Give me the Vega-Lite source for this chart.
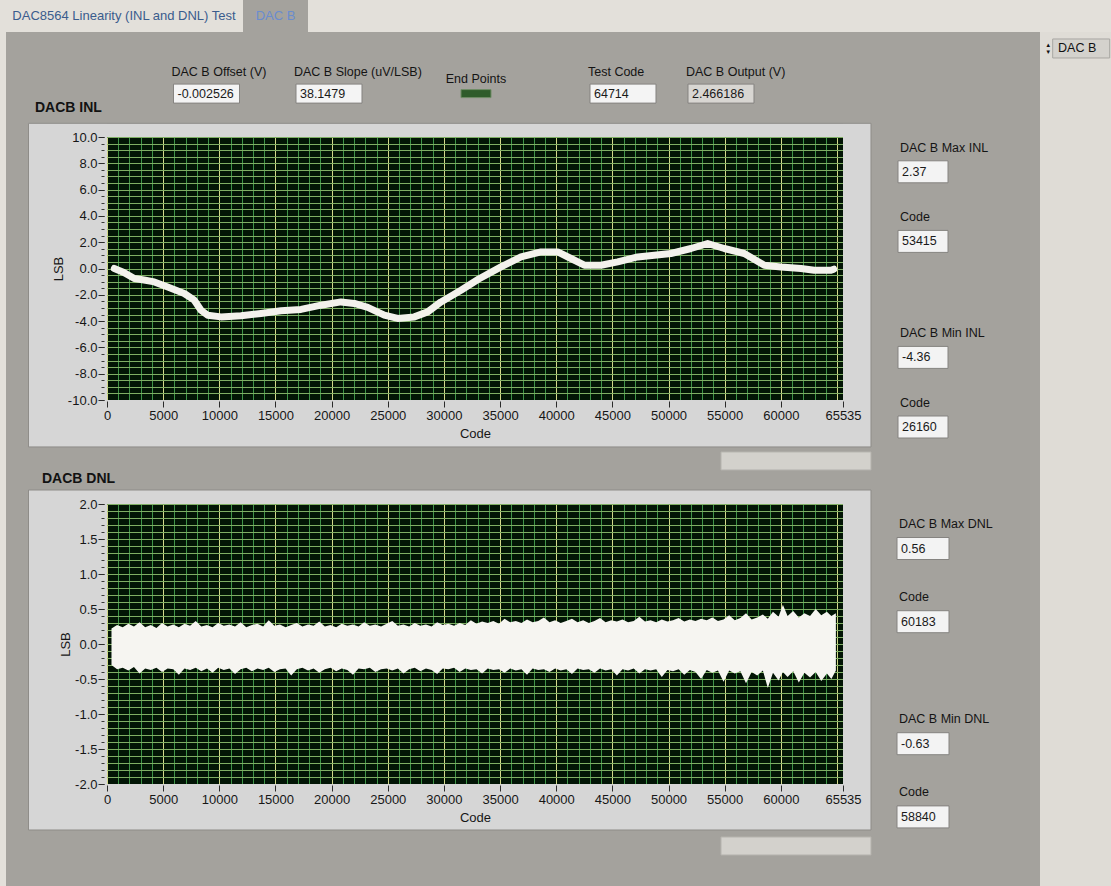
{
  "$schema": "https://vega.github.io/schema/vega-lite/v6.json",
  "background": "#a4a29d",
  "padding": 0,
  "config": {
    "font": "Liberation Sans",
    "view": {"stroke": null},
    "axis": {"labelFont": "Liberation Sans", "titleFont": "Liberation Sans", "labelFontSize": 13, "titleFontSize": 13, "titleFontWeight": "normal", "labelColor": "#161616", "titleColor": "#161616", "tickColor": "#2b2b2b", "domain": false, "grid": false, "labelFlush": false, "labelOverlap": false, "labelBound": false},
    "title": {"font": "Liberation Sans"},
    "text": {"font": "Liberation Sans"}
  },
  "datasets": {
    "tabs": [{"tab": "DAC8564 Linearity (INL and DNL) Test", "sel": false}, {"tab": "DAC B", "sel": true}],
    "header": [
      {"item": "offset", "label": "DAC B Offset (V)", "value": "-0.002526"},
      {"item": "slope", "label": "DAC B Slope (uV/LSB)", "value": "38.1479"},
      {"item": "test", "label": "Test Code", "value": "64714"},
      {"item": "output", "label": "DAC B Output (V)", "value": "2.466186"}
    ],
    "inlside": [
      {"item": "maxv", "label": "DAC B Max INL", "value": "2.37"},
      {"item": "maxc", "label": "Code", "value": "53415"},
      {"item": "minv", "label": "DAC B Min INL", "value": "-4.36"},
      {"item": "minc", "label": "Code", "value": "26160"}
    ],
    "dnlside": [
      {"item": "maxv", "label": "DAC  B Max DNL", "value": "0.56"},
      {"item": "maxc", "label": "Code", "value": "60183"},
      {"item": "minv", "label": "DAC B Min DNL", "value": "-0.63"},
      {"item": "minc", "label": "Code", "value": "58840"}
    ],
    "inl": [{"code":650,"inl":0.0},{"code":1500,"inl":-0.3},{"code":2431,"inl":-0.76},{"code":3300,"inl":-0.88},{"code":4212,"inl":-1.02},{"code":5405,"inl":-1.4},{"code":6883,"inl":-1.9},{"code":7773,"inl":-2.41},{"code":8370,"inl":-3.17},{"code":8966,"inl":-3.55},{"code":10151,"inl":-3.68},{"code":11931,"inl":-3.6},{"code":13712,"inl":-3.42},{"code":15493,"inl":-3.22},{"code":17274,"inl":-3.11},{"code":19055,"inl":-2.79},{"code":20835,"inl":-2.54},{"code":22020,"inl":-2.66},{"code":23213,"inl":-2.96},{"code":24691,"inl":-3.55},{"code":25884,"inl":-3.8},{"code":27362,"inl":-3.68},{"code":28555,"inl":-3.3},{"code":29739,"inl":-2.54},{"code":31520,"inl":-1.65},{"code":33100,"inl":-0.8},{"code":35082,"inl":0.12},{"code":36863,"inl":0.88},{"code":38643,"inl":1.26},{"code":40130,"inl":1.26},{"code":41315,"inl":0.76},{"code":42499,"inl":0.25},{"code":43986,"inl":0.25},{"code":45473,"inl":0.5},{"code":47253,"inl":0.88},{"code":48732,"inl":1.01},{"code":50219,"inl":1.14},{"code":52000,"inl":1.52},{"code":53486,"inl":1.9},{"code":54964,"inl":1.52},{"code":56745,"inl":1.14},{"code":58526,"inl":0.25},{"code":60013,"inl":0.12},{"code":61794,"inl":0.0},{"code":62978,"inl":-0.13},{"code":64465,"inl":-0.13},{"code":64714,"inl":-0.05}],
    "dnl": [
      {"code":400,"hi":0.22,"lo":-0.30},{"code":900,"hi":0.27,"lo":-0.36},{"code":1400,"hi":0.24,"lo":-0.34},{"code":1900,"hi":0.29,"lo":-0.38},{"code":2400,"hi":0.25,"lo":-0.33},{"code":2900,"hi":0.31,"lo":-0.42},{"code":3400,"hi":0.24,"lo":-0.35},{"code":3900,"hi":0.27,"lo":-0.37},{"code":4400,"hi":0.23,"lo":-0.34},{"code":4900,"hi":0.30,"lo":-0.40},
      {"code":5400,"hi":0.25,"lo":-0.35},{"code":5900,"hi":0.28,"lo":-0.36},{"code":6400,"hi":0.24,"lo":-0.44},{"code":6900,"hi":0.29,"lo":-0.35},{"code":7400,"hi":0.26,"lo":-0.37},{"code":7900,"hi":0.33,"lo":-0.34},{"code":8400,"hi":0.25,"lo":-0.39},{"code":8900,"hi":0.27,"lo":-0.35},{"code":9400,"hi":0.24,"lo":-0.41},{"code":9900,"hi":0.30,"lo":-0.34},
      {"code":10400,"hi":0.26,"lo":-0.37},{"code":10900,"hi":0.28,"lo":-0.35},{"code":11400,"hi":0.25,"lo":-0.43},{"code":11900,"hi":0.31,"lo":-0.36},{"code":12400,"hi":0.24,"lo":-0.34},{"code":12900,"hi":0.27,"lo":-0.39},{"code":13400,"hi":0.29,"lo":-0.35},{"code":13900,"hi":0.25,"lo":-0.37},{"code":14400,"hi":0.34,"lo":-0.34},{"code":14900,"hi":0.26,"lo":-0.40},
      {"code":15400,"hi":0.28,"lo":-0.36},{"code":15900,"hi":0.24,"lo":-0.35},{"code":16400,"hi":0.27,"lo":-0.45},{"code":16900,"hi":0.30,"lo":-0.36},{"code":17400,"hi":0.25,"lo":-0.34},{"code":17900,"hi":0.28,"lo":-0.38},{"code":18400,"hi":0.26,"lo":-0.35},{"code":18900,"hi":0.32,"lo":-0.41},{"code":19400,"hi":0.25,"lo":-0.36},{"code":19900,"hi":0.27,"lo":-0.34},
      {"code":20400,"hi":0.24,"lo":-0.39},{"code":20900,"hi":0.29,"lo":-0.35},{"code":21400,"hi":0.26,"lo":-0.37},{"code":21900,"hi":0.28,"lo":-0.44},{"code":22400,"hi":0.25,"lo":-0.35},{"code":22900,"hi":0.31,"lo":-0.36},{"code":23400,"hi":0.26,"lo":-0.34},{"code":23900,"hi":0.28,"lo":-0.40},{"code":24400,"hi":0.25,"lo":-0.36},{"code":24900,"hi":0.29,"lo":-0.35},
      {"code":25400,"hi":0.33,"lo":-0.38},{"code":25900,"hi":0.26,"lo":-0.35},{"code":26400,"hi":0.28,"lo":-0.42},{"code":26900,"hi":0.25,"lo":-0.36},{"code":27400,"hi":0.30,"lo":-0.34},{"code":27900,"hi":0.26,"lo":-0.39},{"code":28400,"hi":0.28,"lo":-0.35},{"code":28900,"hi":0.25,"lo":-0.37},{"code":29400,"hi":0.31,"lo":-0.43},{"code":29900,"hi":0.27,"lo":-0.35},
      {"code":30400,"hi":0.29,"lo":-0.36},{"code":30900,"hi":0.26,"lo":-0.34},{"code":31400,"hi":0.30,"lo":-0.40},{"code":31900,"hi":0.27,"lo":-0.35},{"code":32400,"hi":0.34,"lo":-0.37},{"code":32900,"hi":0.29,"lo":-0.36},{"code":33400,"hi":0.32,"lo":-0.42},{"code":33900,"hi":0.30,"lo":-0.35},{"code":34400,"hi":0.33,"lo":-0.37},{"code":34900,"hi":0.29,"lo":-0.36},
      {"code":35400,"hi":0.36,"lo":-0.41},{"code":35900,"hi":0.31,"lo":-0.35},{"code":36400,"hi":0.33,"lo":-0.38},{"code":36900,"hi":0.30,"lo":-0.36},{"code":37400,"hi":0.35,"lo":-0.44},{"code":37900,"hi":0.31,"lo":-0.35},{"code":38400,"hi":0.33,"lo":-0.37},{"code":38900,"hi":0.38,"lo":-0.36},{"code":39400,"hi":0.31,"lo":-0.40},{"code":39900,"hi":0.34,"lo":-0.35},
      {"code":40400,"hi":0.30,"lo":-0.38},{"code":40900,"hi":0.33,"lo":-0.36},{"code":41400,"hi":0.36,"lo":-0.43},{"code":41900,"hi":0.31,"lo":-0.35},{"code":42400,"hi":0.34,"lo":-0.37},{"code":42900,"hi":0.30,"lo":-0.36},{"code":43400,"hi":0.33,"lo":-0.41},{"code":43900,"hi":0.37,"lo":-0.35},{"code":44400,"hi":0.31,"lo":-0.38},{"code":44900,"hi":0.34,"lo":-0.36},
      {"code":45400,"hi":0.32,"lo":-0.45},{"code":45900,"hi":0.35,"lo":-0.36},{"code":46400,"hi":0.31,"lo":-0.38},{"code":46900,"hi":0.33,"lo":-0.35},{"code":47400,"hi":0.39,"lo":-0.42},{"code":47900,"hi":0.32,"lo":-0.36},{"code":48400,"hi":0.34,"lo":-0.38},{"code":48900,"hi":0.31,"lo":-0.36},{"code":49400,"hi":0.35,"lo":-0.47},{"code":49900,"hi":0.32,"lo":-0.37},
      {"code":50400,"hi":0.34,"lo":-0.39},{"code":50900,"hi":0.37,"lo":-0.36},{"code":51400,"hi":0.32,"lo":-0.44},{"code":51900,"hi":0.35,"lo":-0.37},{"code":52400,"hi":0.33,"lo":-0.40},{"code":52900,"hi":0.36,"lo":-0.50},{"code":53400,"hi":0.34,"lo":-0.37},{"code":53900,"hi":0.38,"lo":-0.41},{"code":54400,"hi":0.33,"lo":-0.38},{"code":54900,"hi":0.35,"lo":-0.54},
      {"code":55400,"hi":0.41,"lo":-0.38},{"code":55900,"hi":0.34,"lo":-0.42},{"code":56400,"hi":0.37,"lo":-0.39},{"code":56900,"hi":0.44,"lo":-0.56},{"code":57400,"hi":0.35,"lo":-0.40},{"code":57900,"hi":0.38,"lo":-0.45},{"code":58400,"hi":0.42,"lo":-0.38},{"code":58840,"hi":0.36,"lo":-0.63},{"code":59300,"hi":0.46,"lo":-0.41},{"code":59800,"hi":0.39,"lo":-0.52},
      {"code":60183,"hi":0.56,"lo":-0.40},{"code":60600,"hi":0.40,"lo":-0.47},{"code":61100,"hi":0.47,"lo":-0.39},{"code":61600,"hi":0.38,"lo":-0.55},{"code":62100,"hi":0.44,"lo":-0.41},{"code":62600,"hi":0.40,"lo":-0.48},{"code":63100,"hi":0.50,"lo":-0.40},{"code":63600,"hi":0.41,"lo":-0.53},{"code":64100,"hi":0.46,"lo":-0.42},{"code":64500,"hi":0.40,"lo":-0.50},{"code":64900,"hi":0.44,"lo":-0.38}
    ]
  },
  "spacing": 0,
  "vconcat": [
    {
      "width": 1111, "height": 32,
      "view": {"fill": "#e3e0da", "stroke": null},
      "data": {"name": "tabs"},
      "encoding": {"x": {"field": "tab", "type": "nominal", "sort": null, "scale": {"type": "band", "domain": ["DAC8564 Linearity (INL and DNL) Test", "DAC B", "t3", "t4", "t5", "t6", "t7"], "paddingInner": 0.571, "paddingOuter": 0.452, "align": 0.668}, "axis": null}},
      "layer": [
        {"transform": [{"filter": "datum.sel"}], "mark": {"type": "bar", "color": "#a4a29d"}},
        {"mark": {"type": "text", "fontSize": 13}, "encoding": {"text": {"field": "tab"}, "color": {"condition": {"test": "datum.sel", "value": "#6a8ccf"}, "value": "#3a5c8d"}}}
      ]
    },
    {
      "spacing": 0,
      "hconcat": [
        {"width": 6, "height": 854, "view": {"fill": "#e3e0da", "stroke": null}, "data": {"values": []}, "mark": "rect", "encoding": {}},
        {
          "spacing": 0,
          "vconcat": [
            {
              "width": 1034, "height": 90,
              "view": {"fill": null, "stroke": null},
              "data": {"name": "header"},
              "layer": [
                {"data": {"values": [{"t": "DACB INL"}]},
                 "mark": {"type": "text", "align": "left", "fontSize": 14, "fontWeight": "bold", "color": "#121212"},
                 "encoding": {
                   "x": {"datum": "title", "type": "nominal", "scale": {"type": "point", "domain": ["title","h1","h2","h3","h4","h5","h6","offset","h8","h9","h10","h11","slope","h13","h14","h15","h16","h17","end","h19","h20","h21","h22","h23","test","h25","h26","h27","output","h29","h30","h31","h32","h33","h34","h35","h36","h37","h38","h39","h40","h41"], "padding": 0.602, "align": 0.983}, "axis": null},
                   "y": {"datum": "ttl", "type": "nominal", "scale": {"type": "point", "domain": ["e0","e1","e2","e3","e4","lab","lab2","y2","box","y4","ttl","e11"], "padding": 0.75, "align": 0.3704}, "axis": null},
                   "text": {"field": "t"}}},
                {"mark": {"type": "text", "align": "left", "dx": -35, "fontSize": 12.5, "color": "#141414"},
                 "encoding": {"x": {"field": "item", "type": "nominal", "axis": null}, "y": {"datum": "lab", "type": "nominal", "axis": null}, "text": {"field": "label"}}},
                {"mark": {"type": "rect", "width": 66, "height": 19, "stroke": "#858380", "strokeWidth": 1},
                 "encoding": {"x": {"field": "item", "type": "nominal", "axis": null}, "y": {"datum": "box", "type": "nominal", "axis": null},
                   "fill": {"condition": {"test": "datum.item === 'output'", "value": "#d8d6d2"}, "value": "#f4f4f4"}}},
                {"mark": {"type": "text", "align": "left", "dx": -29, "fontSize": 12.5, "color": "#1a1a1a"},
                 "encoding": {"x": {"field": "item", "type": "nominal", "axis": null}, "y": {"datum": "box", "type": "nominal", "axis": null}, "text": {"field": "value"}}},
                {"data": {"values": [{"item": "end", "label": "End Points"}]},
                 "mark": {"type": "rect", "width": 30, "height": 8, "fill": "#2f5c2b", "stroke": "#6f8d66", "strokeWidth": 1},
                 "encoding": {"x": {"field": "item", "type": "nominal", "axis": null}, "y": {"datum": "box", "type": "nominal", "axis": null}}},
                {"data": {"values": [{"item": "end", "label": "End Points"}]},
                 "mark": {"type": "text", "fontSize": 12.5, "color": "#141414"},
                 "encoding": {"x": {"field": "item", "type": "nominal", "axis": null}, "y": {"datum": "lab2", "type": "nominal", "axis": null}, "text": {"field": "label"}}}
              ]
            },
            {
              "spacing": 0,
              "hconcat": [
                {"width": 21, "height": 1, "view": {"fill": null, "stroke": null}, "data": {"values": []}, "mark": "rect", "encoding": {}},
                {
                  "width": 736, "height": 263,
                  "view": {"fill": "#021505", "stroke": null},
                  "data": {"name": "inl"},
                  "resolve": {"axis": {"x": "independent", "y": "independent"}},
                  "layer": [
                    {"data": {"values": [{}]}, "mark": {"type": "rect", "color": "#d6d6d6"},
                     "encoding": {"x": {"datum": -6990, "type": "quantitative", "scale": {"domain": [0, 65535], "nice": false, "zero": false}, "axis": null}, "x2": {"datum": 0},
                                  "y": {"datum": -13.57, "type": "quantitative", "scale": {"domain": [-10, 10], "nice": false, "zero": false}, "axis": null}, "y2": {"datum": 11.04}}},
                    {"data": {"values": [{}]}, "mark": {"type": "rect", "color": "#d6d6d6"},
                     "encoding": {"x": {"datum": 65535, "type": "quantitative", "axis": null}, "x2": {"datum": 68028}, "y": {"datum": -13.57, "type": "quantitative", "axis": null}, "y2": {"datum": 11.04}}},
                    {"data": {"values": [{}]}, "mark": {"type": "rect", "color": "#d6d6d6"},
                     "encoding": {"x": {"datum": -6990, "type": "quantitative", "axis": null}, "x2": {"datum": 68028}, "y": {"datum": 10, "type": "quantitative", "axis": null}, "y2": {"datum": 11.04}}},
                    {"data": {"values": [{}]}, "mark": {"type": "rect", "color": "#d6d6d6"},
                     "encoding": {"x": {"datum": -6990, "type": "quantitative", "axis": null}, "x2": {"datum": 68028}, "y": {"datum": -13.57, "type": "quantitative", "axis": null}, "y2": {"datum": -10}}},
                    {"data": {"values": [{}]}, "mark": {"type": "rect", "fill": null, "stroke": "#8e8c88", "strokeWidth": 1},
                     "encoding": {"x": {"datum": -6990, "type": "quantitative", "axis": null}, "x2": {"datum": 68028}, "y": {"datum": -13.57, "type": "quantitative", "axis": null}, "y2": {"datum": 11.04}}},
                    {"data": {"values": [{}]}, "mark": {"type": "rect", "fill": "#d3d1cc", "stroke": "#b5b3ae", "strokeWidth": 1},
                     "encoding": {"x": {"datum": 54671, "type": "quantitative", "axis": null}, "x2": {"datum": 68027}, "y": {"datum": -15.32, "type": "quantitative", "axis": null}, "y2": {"datum": -13.95}}},
                    {"mark": {"type": "point", "opacity": 0},
                     "encoding": {
                       "x": {"field": "code", "type": "quantitative", "axis": {"orient": "bottom", "values": [0,1000,2000,3000,4000,5000,6000,7000,8000,9000,10000,11000,12000,13000,14000,15000,16000,17000,18000,19000,20000,21000,22000,23000,24000,25000,26000,27000,28000,29000,30000,31000,32000,33000,34000,35000,36000,37000,38000,39000,40000,41000,42000,43000,44000,45000,46000,47000,48000,49000,50000,51000,52000,53000,54000,55000,56000,57000,58000,59000,60000,61000,62000,63000,64000,65000], "grid": true, "gridColor": "#3f9448", "gridOpacity": 1, "labels": false, "ticks": false, "domain": false, "title": null, "zindex": 0}},
                       "y": {"field": "inl", "type": "quantitative", "axis": {"orient": "left", "values": [-10,-9.5,-9,-8.5,-8,-7.5,-7,-6.5,-6,-5.5,-5,-4.5,-4,-3.5,-3,-2.5,-2,-1.5,-1,-0.5,0,0.5,1,1.5,2,2.5,3,3.5,4,4.5,5,5.5,6,6.5,7,7.5,8,8.5,9,9.5,10], "grid": true, "gridColor": "#7fae64", "gridOpacity": 1, "labels": false, "ticks": false, "domain": false, "title": null, "zindex": 0}}}},
                    {"mark": {"type": "point", "opacity": 0},
                     "encoding": {
                       "x": {"field": "code", "type": "quantitative", "axis": {"orient": "bottom", "values": [0,5000,10000,15000,20000,25000,30000,35000,40000,45000,50000,55000,60000,65000], "grid": true, "gridColor": "#d2d88a", "gridOpacity": 1, "labels": false, "ticks": false, "domain": false, "title": null, "zindex": 0}},
                       "y": {"field": "inl", "type": "quantitative", "axis": {"orient": "left", "values": [-10,-9.5,-9,-8.5,-8,-7.5,-7,-6.5,-6,-5.5,-5,-4.5,-4,-3.5,-3,-2.5,-2,-1.5,-1,-0.5,0,0.5,1,1.5,2,2.5,3,3.5,4,4.5,5,5.5,6,6.5,7,7.5,8,8.5,9,9.5,10], "offset": 3, "grid": false, "labels": false, "ticks": true, "tickSize": 3, "tickColor": "#3a3a3a", "domain": false, "title": null, "zindex": 1}}}},
                    {"mark": {"type": "line", "color": "#f3f1ec", "strokeWidth": 7, "strokeCap": "round", "strokeJoin": "round"},
                     "encoding": {
                       "x": {"field": "code", "type": "quantitative", "axis": {"orient": "bottom", "values": [0,5000,10000,15000,20000,25000,30000,35000,40000,45000,50000,55000,60000,65535], "format": "d", "offset": 1, "tickSize": 6, "labelPadding": 2, "title": "Code", "titlePadding": 5, "zindex": 1}},
                       "y": {"field": "inl", "type": "quantitative", "axis": {"orient": "left", "values": [-10,-8,-6,-4,-2,0,2,4,6,8,10], "labelExpr": "replace(format(datum.value, '.1f'), '\u2212', '-')", "offset": 3, "tickSize": 6, "labelPadding": 1, "title": "LSB", "titlePadding": 2, "zindex": 1}}}}
                  ]
                },
                {
                  "width": 102, "height": 290,
                  "view": {"fill": null, "stroke": null},
                  "data": {"name": "inlside"},
                  "encoding": {
                    "x": {"datum": "c", "type": "nominal", "scale": {"type": "point", "domain": ["c"]}, "axis": null},
                    "y": {"field": "item", "type": "nominal", "scale": {"type": "point", "domain": ["s0","s1","s2","maxv","s4","s5","s6","s7","s8","maxc","s10","s11","s12","s13","s14","s15","s16","s17","s18","minv","s20","s21","s22","s23","s24","minc"], "padding": 0, "align": 0}, "axis": null}
                  },
                  "layer": [
                    {"mark": {"type": "rect", "width": 50, "height": 22, "fill": "#f3f3f3", "stroke": "#858380", "strokeWidth": 1}},
                    {"mark": {"type": "text", "align": "left", "dx": -21, "fontSize": 12.5, "color": "#1a1a1a"}, "encoding": {"text": {"field": "value"}}},
                    {"mark": {"type": "text", "align": "left", "dx": -23, "dy": -24, "fontSize": 12.5, "color": "#141414"}, "encoding": {"text": {"field": "label"}}}
                  ]
                }
              ]
            },
            {
              "spacing": 0,
              "hconcat": [
                {"width": 21, "height": 1, "view": {"fill": null, "stroke": null}, "data": {"values": []}, "mark": "rect", "encoding": {}},
                {
                  "width": 736, "height": 280,
                  "title": {"text": "DACB DNL", "anchor": "start", "fontSize": 14, "fontWeight": "bold", "color": "#121212", "offset": 4, "dx": 14},
                  "view": {"fill": "#021505", "stroke": null},
                  "data": {"name": "dnl"},
                  "resolve": {"axis": {"x": "independent", "y": "independent"}},
                  "layer": [
                    {"data": {"values": [{}]}, "mark": {"type": "rect", "color": "#d6d6d6"},
                     "encoding": {"x": {"datum": -6990, "type": "quantitative", "scale": {"domain": [0, 65535], "nice": false, "zero": false}, "axis": null}, "x2": {"datum": 0},
                                  "y": {"datum": -2.657, "type": "quantitative", "scale": {"domain": [-2, 2], "nice": false, "zero": false}, "axis": null}, "y2": {"datum": 2.2}}},
                    {"data": {"values": [{}]}, "mark": {"type": "rect", "color": "#d6d6d6"},
                     "encoding": {"x": {"datum": 65535, "type": "quantitative", "axis": null}, "x2": {"datum": 68028}, "y": {"datum": -2.657, "type": "quantitative", "axis": null}, "y2": {"datum": 2.2}}},
                    {"data": {"values": [{}]}, "mark": {"type": "rect", "color": "#d6d6d6"},
                     "encoding": {"x": {"datum": -6990, "type": "quantitative", "axis": null}, "x2": {"datum": 68028}, "y": {"datum": 2, "type": "quantitative", "axis": null}, "y2": {"datum": 2.2}}},
                    {"data": {"values": [{}]}, "mark": {"type": "rect", "color": "#d6d6d6"},
                     "encoding": {"x": {"datum": -6990, "type": "quantitative", "axis": null}, "x2": {"datum": 68028}, "y": {"datum": -2.657, "type": "quantitative", "axis": null}, "y2": {"datum": -2}}},
                    {"data": {"values": [{}]}, "mark": {"type": "rect", "fill": null, "stroke": "#8e8c88", "strokeWidth": 1},
                     "encoding": {"x": {"datum": -6990, "type": "quantitative", "axis": null}, "x2": {"datum": 68028}, "y": {"datum": -2.657, "type": "quantitative", "axis": null}, "y2": {"datum": 2.2}}},
                    {"data": {"values": [{}]}, "mark": {"type": "rect", "fill": "#d3d1cc", "stroke": "#b5b3ae", "strokeWidth": 1},
                     "encoding": {"x": {"datum": 54671, "type": "quantitative", "axis": null}, "x2": {"datum": 68027}, "y": {"datum": -3.014, "type": "quantitative", "axis": null}, "y2": {"datum": -2.757}}},
                    {"mark": {"type": "point", "opacity": 0},
                     "encoding": {
                       "x": {"field": "code", "type": "quantitative", "axis": {"orient": "bottom", "values": [0,1000,2000,3000,4000,5000,6000,7000,8000,9000,10000,11000,12000,13000,14000,15000,16000,17000,18000,19000,20000,21000,22000,23000,24000,25000,26000,27000,28000,29000,30000,31000,32000,33000,34000,35000,36000,37000,38000,39000,40000,41000,42000,43000,44000,45000,46000,47000,48000,49000,50000,51000,52000,53000,54000,55000,56000,57000,58000,59000,60000,61000,62000,63000,64000,65000], "grid": true, "gridColor": "#3f9448", "gridOpacity": 1, "labels": false, "ticks": false, "domain": false, "title": null, "zindex": 0}},
                       "y": {"field": "hi", "type": "quantitative", "axis": {"orient": "left", "values": [-2,-1.9,-1.8,-1.7,-1.6,-1.5,-1.4,-1.3,-1.2,-1.1,-1,-0.9,-0.8,-0.7,-0.6,-0.5,-0.4,-0.3,-0.2,-0.1,0,0.1,0.2,0.3,0.4,0.5,0.6,0.7,0.8,0.9,1,1.1,1.2,1.3,1.4,1.5,1.6,1.7,1.8,1.9,2], "grid": true, "gridColor": "#7fae64", "gridOpacity": 1, "labels": false, "ticks": false, "domain": false, "title": null, "zindex": 0}}}},
                    {"mark": {"type": "point", "opacity": 0},
                     "encoding": {
                       "x": {"field": "code", "type": "quantitative", "axis": {"orient": "bottom", "values": [0,5000,10000,15000,20000,25000,30000,35000,40000,45000,50000,55000,60000,65000], "grid": true, "gridColor": "#d2d88a", "gridOpacity": 1, "labels": false, "ticks": false, "domain": false, "title": null, "zindex": 0}},
                       "y": {"field": "hi", "type": "quantitative", "axis": {"orient": "left", "values": [-2,-1.9,-1.8,-1.7,-1.6,-1.5,-1.4,-1.3,-1.2,-1.1,-1,-0.9,-0.8,-0.7,-0.6,-0.5,-0.4,-0.3,-0.2,-0.1,0,0.1,0.2,0.3,0.4,0.5,0.6,0.7,0.8,0.9,1,1.1,1.2,1.3,1.4,1.5,1.6,1.7,1.8,1.9,2], "offset": 3, "grid": false, "labels": false, "ticks": true, "tickSize": 3, "tickColor": "#3a3a3a", "domain": false, "title": null, "zindex": 1}}}},
                    {"mark": {"type": "area", "color": "#f6f5f1", "interpolate": "linear"},
                     "encoding": {
                       "x": {"field": "code", "type": "quantitative", "axis": {"orient": "bottom", "values": [0,5000,10000,15000,20000,25000,30000,35000,40000,45000,50000,55000,60000,65535], "format": "d", "offset": 1, "tickSize": 6, "labelPadding": 2, "title": "Code", "titlePadding": 5, "zindex": 1}},
                       "y": {"field": "hi", "type": "quantitative", "axis": {"orient": "left", "values": [-2,-1.5,-1,-0.5,0,0.5,1,1.5,2], "labelExpr": "replace(format(datum.value, '.1f'), '\u2212', '-')", "offset": 3, "tickSize": 6, "labelPadding": 1, "title": "LSB", "titlePadding": 2, "zindex": 1}},
                       "y2": {"field": "lo"}}}
                  ]
                },
                {
                  "width": 102, "height": 329.4,
                  "view": {"fill": null, "stroke": null},
                  "data": {"name": "dnlside"},
                  "encoding": {
                    "x": {"datum": "c", "type": "nominal", "scale": {"type": "point", "domain": ["c"]}, "axis": null},
                    "y": {"field": "item", "type": "nominal", "scale": {"type": "point", "domain": ["s0","s1","s2","maxv","s4","s5","s6","s7","s8","maxc","s10","s11","s12","s13","s14","s15","s16","s17","s18","minv","s20","s21","s22","s23","s24","minc"], "padding": 1, "align": 0.324}, "axis": null}
                  },
                  "layer": [
                    {"mark": {"type": "rect", "width": 52, "height": 22, "fill": "#f3f3f3", "stroke": "#858380", "strokeWidth": 1}},
                    {"mark": {"type": "text", "align": "left", "dx": -22, "fontSize": 12.5, "color": "#1a1a1a"}, "encoding": {"text": {"field": "value"}}},
                    {"mark": {"type": "text", "align": "left", "dx": -24, "dy": -25, "fontSize": 12.5, "color": "#141414"}, "encoding": {"text": {"field": "label"}}}
                  ]
                }
              ]
            }
          ]
        },
        {
          "width": 71, "height": 854,
          "view": {"fill": "#dfdcd6", "stroke": null},
          "data": {"values": [{"s": "DAC B", "up": "▲", "dn": "▼"}]},
          "encoding": {
            "x": {"datum": "c", "type": "nominal", "scale": {"type": "point", "domain": ["c"], "padding": 0.5, "align": 0.58}, "axis": null},
            "y": {"datum": "sel", "type": "nominal", "scale": {"type": "point", "domain": ["sel"], "padding": 0, "align": 0.0193}, "axis": null}
          },
          "layer": [
            {"mark": {"type": "rect", "width": 57, "height": 19, "fill": "#d4d2cd", "stroke": "#a9a7a2", "strokeWidth": 1}},
            {"mark": {"type": "text", "fontSize": 12.5, "color": "#111111", "dx": -4}, "encoding": {"text": {"field": "s"}}},
            {"mark": {"type": "text", "fontSize": 6, "dx": -33, "dy": -3, "color": "#111111"}, "encoding": {"text": {"field": "up"}}},
            {"mark": {"type": "text", "fontSize": 6, "dx": -33, "dy": 4, "color": "#111111"}, "encoding": {"text": {"field": "dn"}}}
          ]
        }
      ]
    }
  ]
}
